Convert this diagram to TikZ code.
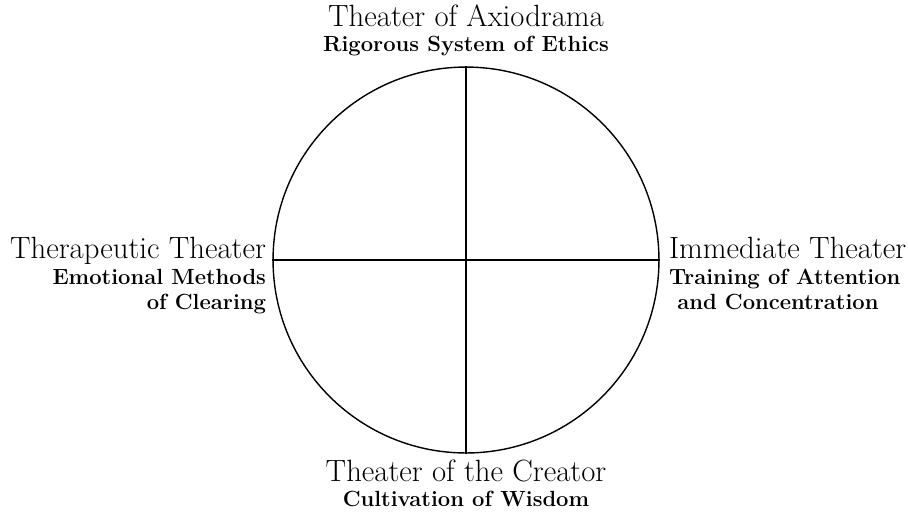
\documentclass[tikz,border=0pt]{standalone}
\usetikzlibrary{positioning}
\newcommand\subline[1]{{\bfseries\fontsize{12.5}{14.4}\selectfont #1}}

\begin{document}
\begin{tikzpicture}[x=0.02cm, y=-0.02cm,
  quarter/.style={inner sep=0pt, font=\fontsize{17.5}{14.4}\selectfont}]
  \useasboundingbox (0,0) rectangle (908,512);
  \node[draw, thick, circle, minimum size=7.72cm, inner sep=0pt] (ring) at (466,260) {};
  \draw[thick] (ring.north) -- (ring.south);
  \draw[thick] (ring.west) -- (ring.east);

  % the four theaters
  \node[quarter, align=center, above=0.2cm of ring.north] (axio)
    {Theater of Axiodrama\\ \subline{Rigorous System of Ethics}};
  \node[quarter, align=center, below=0.12cm of ring.south] (creator)
    {Theater of the Creator\\ \subline{Cultivation of Wisdom}};
  \node[quarter, align=right, anchor=north east] (thera)
    at ([xshift=-0.12cm, yshift=0.46cm]ring.west)
    {Therapeutic Theater\\ \subline{Emotional Methods}\\ \subline{of Clearing}};
  \node[quarter, align=left, anchor=north west] (immed)
    at ([xshift=0.18cm, yshift=0.46cm]ring.east)
    {Immediate Theater\\ \subline{Training of Attention}\\ \subline{\ and Concentration}};
\end{tikzpicture}
\end{document}
